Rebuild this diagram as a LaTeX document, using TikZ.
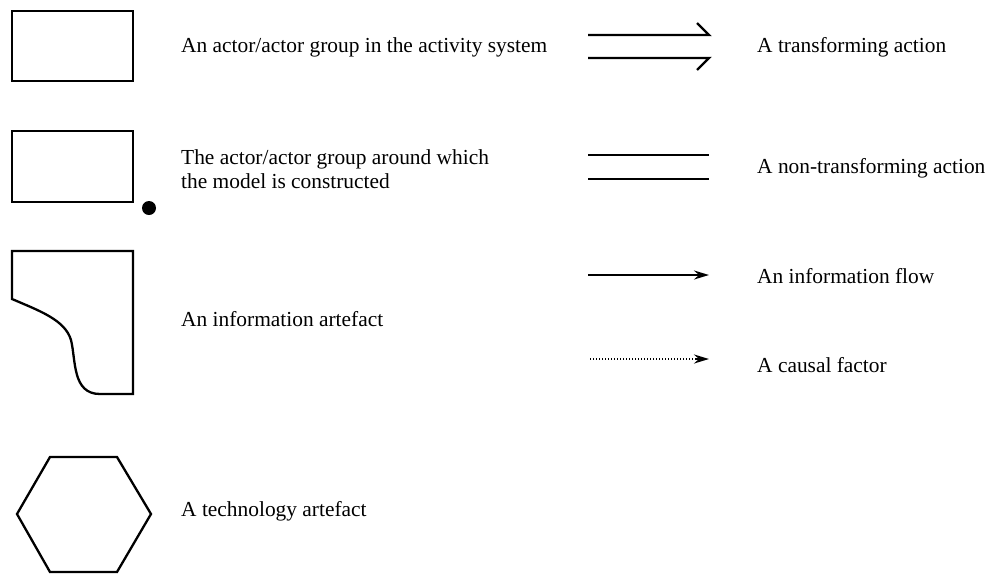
\documentclass[tikz,border=0pt]{standalone}
\usepackage{fontspec}
\setmainfont{Liberation Serif}
\usetikzlibrary{arrows.meta}
\begin{document}
\begin{tikzpicture}[x=1pt,y=-1pt,
  shapeline/.style={line width=2.3pt,line join=miter},
  legendtext/.style={anchor=base west,inner sep=0pt,font=\fontsize{21.4}{24}\selectfont,align=left},
  flowline/.style={line width=2.3pt},
  flowtip/.style={-{Stealth[length=15pt,width=9pt,inset=5pt]}}]
  \useasboundingbox (0,0) rectangle (990,574);

  % --- left column: symbols for actors and artefacts ---
  \draw[shapeline] (12,11) rectangle (133,81);
  \node[legendtext] (actor) at (181,52) {An actor/actor group in the activity system};

  \draw[shapeline] (12,131) rectangle (133,202);
  \fill (149,208) circle (7);
  \node[legendtext] (focal) at (181,188) {The actor/actor group around which\\the model is constructed};

  \draw[shapeline] (12,251) -- (133,251) -- (133,394) -- (100,394)
    .. controls (72,394) and (76,360) .. (71,340)
    .. controls (65,320) and (40,311) .. (12,299) -- cycle;
  \node[legendtext] (info) at (181,326) {An information artefact};

  \draw[shapeline] (50,457) -- (117,457) -- (151,514) -- (117,572) -- (50,572) -- (17,514) -- cycle;
  \node[legendtext] (tech) at (181,516) {A technology artefact};

  % --- right column: connector types ---
  \coordinate (t1a) at (588,35);  \coordinate (t1b) at (709,35);  \coordinate (t1c) at (697,23);
  \coordinate (t2a) at (588,58);  \coordinate (t2b) at (709,58);  \coordinate (t2c) at (697,70);
  \draw[flowline] (t1a) -- (t1b) -- (t1c);
  \draw[flowline] (t2a) -- (t2b) -- (t2c);
  \node[legendtext] (trans) at (757,52) {A transforming action};

  \coordinate (n1a) at (588,155); \coordinate (n1b) at (709,155);
  \coordinate (n2a) at (588,179); \coordinate (n2b) at (709,179);
  \draw[flowline] (n1a) -- (n1b);
  \draw[flowline] (n2a) -- (n2b);
  \node[legendtext] (nontrans) at (757,173) {A non-transforming action};

  \coordinate (fa) at (588,275); \coordinate (fb) at (709,275);
  \draw[flowline,flowtip] (fa) -- (fb);
  \node[legendtext] (flow) at (757,283) {An information flow};

  \coordinate (ca) at (590,359); \coordinate (cb) at (709,359);
  \draw[line width=1.7pt,dash pattern=on 1.2pt off 1.8pt] (ca) -- (695,359);
  \draw[flowline,flowtip] (695,359) -- (cb);
  \node[legendtext] (causal) at (757,372) {A causal factor};
\end{tikzpicture}
\end{document}
